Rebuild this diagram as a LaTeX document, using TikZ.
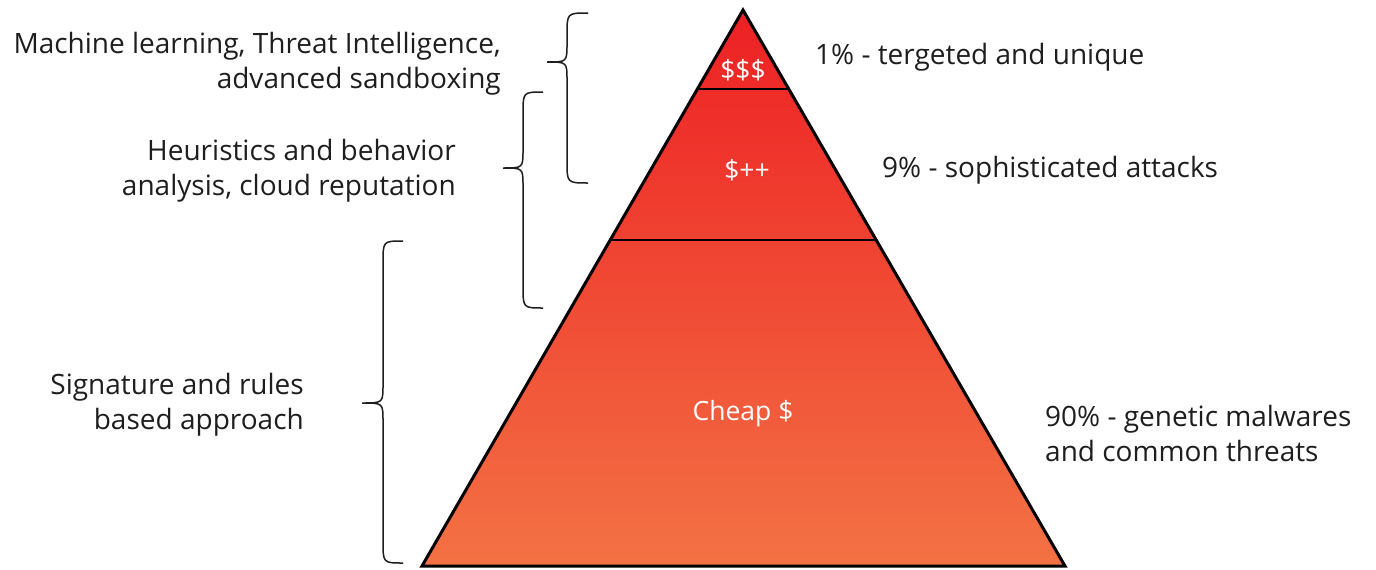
\documentclass[tikz,border=0pt]{standalone}
\usepackage{fontspec}
\setmainfont{Open Sans}
\usetikzlibrary{calc}
\definecolor{toprd}{RGB}{237,32,36}
\definecolor{botor}{RGB}{243,114,68}
\definecolor{txt}{RGB}{30,30,30}
\newcommand\curlybrace[6]{%
\draw[bracestyle] (#1,#4) .. controls (#2,#4) .. (#2,#4+22) -- (#2,#5-18) .. controls (#2,#5) and (#2,#5) .. (#3,#5) .. controls (#2,#5) and (#2,#5) .. (#2,#5+18) -- (#2,#6-22) .. controls (#2,#6) .. (#1,#6);}
\begin{document}
\begin{tikzpicture}[x=1pt,y=-1pt,
  bracestyle/.style={line width=1.5pt,draw=txt},
  lbl/.style={font=\fontsize{28}{35}\selectfont,text=txt,inner sep=0pt},
  inlbl/.style={font=\fontsize{26.5}{35}\selectfont,text=white,inner sep=0pt},
  edge/.style={line width=3pt,draw=black,line join=miter}]
\useasboundingbox (0,0) rectangle (1376,570);
\coordinate (apex) at (743,10);
\coordinate (bl) at (422,566);
\coordinate (br) at (1065,566);
\coordinate (d1l) at ($(apex)!79/556!(bl)$);
\coordinate (d1r) at ($(apex)!79/556!(br)$);
\coordinate (d2l) at ($(apex)!230/556!(bl)$);
\coordinate (d2r) at ($(apex)!230/556!(br)$);
\shade[top color=toprd,bottom color=botor] (apex) -- (bl) -- (br) -- cycle;
\draw[line width=2.5pt] (d1l) -- (d1r);
\draw[line width=2.5pt] (d2l) -- (d2r);
\draw[edge] (apex) -- (bl) -- (br) -- cycle;
% inner labels
\node[inlbl] (t1) at (743,70) {\$\$\$};
\node[inlbl] (t2) at (747,170) {\$++};
\node[inlbl] (t3) at (743,414) {Cheap \$};
% braces
\curlybrace{588}{567}{547}{13}{62}{183}
\curlybrace{543}{523}{503}{92}{168}{308}
\curlybrace{403}{383}{362}{241}{403}{563}
% left labels
\node[lbl,anchor=east,align=right] (l1) at (501,64) {Machine learning, Threat Intelligence,\\advanced sandboxing};
\node[lbl,anchor=east,align=right] (l2) at (456,171) {Heuristics and behavior\\analysis, cloud reputation};
\node[lbl,anchor=east,align=right] (l3) at (304,405) {Signature and rules\\based approach};
% right labels
\node[lbl,anchor=west] (r1) at (815,57) {1\% - tergeted and unique};
\node[lbl,anchor=west] (r2) at (882,170) {9\% - sophisticated attacks};
\node[lbl,anchor=west,align=left] (r3) at (1045,433) {90\% - genetic malwares\\and common threats};
\end{tikzpicture}
\end{document}
